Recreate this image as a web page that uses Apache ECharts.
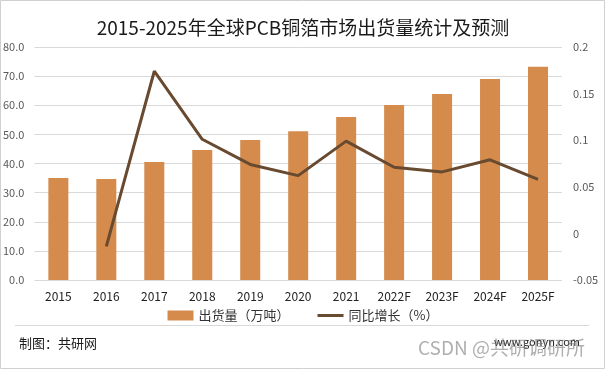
<!DOCTYPE html>
<html><head><meta charset="utf-8">
<script src="https://cdn.jsdelivr.net/npm/echarts@6/dist/echarts.min.js"></script>
<style>html,body{margin:0;padding:0;background:#fff}#c{width:606px;height:370px}</style>
</head><body><div id="c"></div>
<script>
var categories = ['2015','2016','2017','2018','2019','2020','2021','2022F','2023F','2024F','2025F'];
var shipments = [35.0, 34.7, 40.5, 44.6, 48.1, 51.1, 56.0, 60.1, 63.9, 69.0, 73.2];
var growth = [null, -0.014, 0.174, 0.101, 0.074, 0.062, 0.099, 0.071, 0.066, 0.079, 0.058];
var leftTicks = [0, 80, 10];
var rightTicks = [-0.05, 0.2, 0.05];
var F = '"Noto Sans CJK SC", "Liberation Sans", sans-serif';
var chart = echarts.init(document.getElementById('c'));
chart.setOption({
  animation: false,
  title: {text: '2015-2025年全球PCB铜箔市场出货量统计及预测', left: 'center', top: 13,
    textStyle: {fontFamily: F, fontSize: 19, fontWeight: 'normal', color: '#1a1a1a'}},
  grid: {left: 34, right: 44, top: 47, bottom: 90},
  legend: {top: 304, left: 'center', itemGap: 28, itemWidth: 26, itemHeight: 10,
    textStyle: {fontFamily: F, fontSize: 13, color: '#333'},
    data: [{name: '出货量（万吨）', icon: 'rect'},
           {name: '同比增长（%）', icon: 'path://M0,0 L26,0 L26,3 L0,3 Z'}]},
  xAxis: {type: 'category', data: categories,
    axisLine: {show: false}, axisTick: {show: false},
    axisLabel: {fontFamily: F, fontSize: 12, color: '#222', margin: 10}},
  yAxis: [{type: 'value', min: leftTicks[0], max: leftTicks[1], interval: leftTicks[2],
      axisLabel: {fontFamily: F, fontSize: 11, color: '#595959', margin: 10, formatter: function(v){return v.toFixed(1);}},
      splitLine: {lineStyle: {color: '#d9d9d9', width: 1}}},
    {type: 'value', min: rightTicks[0], max: rightTicks[1], interval: rightTicks[2],
      axisLabel: {fontFamily: F, fontSize: 11, color: '#595959', margin: 11,
        formatter: function(v){return String(Math.round(v*100)/100);}},
      splitLine: {show: false}}],
  series: [{name: '出货量（万吨）', type: 'bar', data: shipments, barWidth: 20,
      itemStyle: {color: '#D48B4C'}},
    {name: '同比增长（%）', type: 'line', yAxisIndex: 1, data: growth, symbol: 'none',
      lineStyle: {color: '#684A30', width: 3}, itemStyle: {color: '#684A30'}}],
  graphic: [
    {type: 'rect', shape: {x: 0.5, y: 0.5, width: 604, height: 368}, style: {fill: 'none', stroke: '#d0d0d0', lineWidth: 1}, silent: true},
    {type: 'line', shape: {x1: 15, y1: 325.5, x2: 589, y2: 325.5}, style: {stroke: '#d9d9d9', lineWidth: 1}},
    {type: 'text', left: 19, top: 337, style: {text: '制图：共研网', font: '13px ' + F, fill: '#1a1a1a'}},
    {type: 'text', left: 494, top: 336, style: {text: 'www.gonyn.com', font: '11px ' + F, fill: '#222'}},
    {type: 'text', left: 418, top: 338, style: {text: 'CSDN @共研调研所', font: '19px ' + F, fill: 'rgba(110,110,110,0.55)'}}
  ]
});
</script></body></html>
